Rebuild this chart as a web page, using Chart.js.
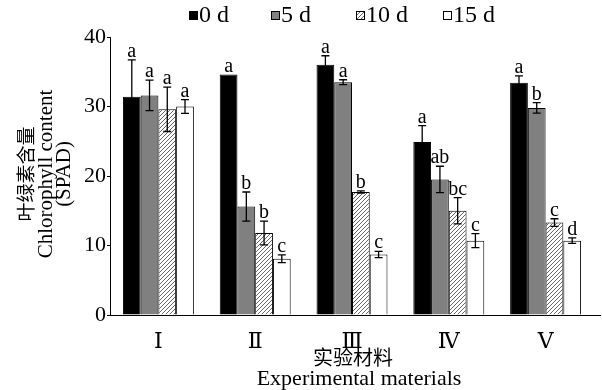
<!DOCTYPE html>
<html>
<head>
<meta charset="utf-8">
<script src="https://cdn.jsdelivr.net/npm/chart.js@4.4.1/dist/chart.umd.min.js"></script>
<style>
  html, body { margin: 0; padding: 0; background: #fff; }
  #wrap { width: 602px; height: 390px; }
</style>
</head>
<body>
<div id="wrap"><canvas id="chart" width="602" height="390"></canvas></div>
<script>
// ─── Data ─────────────────────────────────────────────────────────────────────
const categories = ["Ⅰ", "Ⅱ", "Ⅲ", "Ⅳ", "Ⅴ"];
const seriesNames = ["0 d", "5 d", "10 d", "15 d"];

const day0  = [31.4, 34.6, 36.0, 24.9, 33.4];
const day5  = [31.6, 15.6, 33.5, 19.5, 29.8];
const day10 = [29.6, 11.8, 17.7, 15.0, 13.3];
const day15 = [30.0,  8.1,  8.7, 10.7, 10.7];

const err0  = [5.3, 0.0, 1.3, 2.35, 1.0];
const err5  = [2.2, 2.1, 0.35, 1.9, 0.75];
const err10 = [3.2, 1.7, 0.15, 1.9, 0.55];
const err15 = [1.0, 0.55, 0.45, 1.0, 0.4];

const sig0  = ["a", "a", "a", "a", "a"];
const sig5  = ["a", "b", "a", "ab", "b"];
const sig10 = ["a", "b", "b", "bc", "c"];
const sig15 = ["a", "c", "c", "c", "d"];

const yTicks = [0, 10, 20, 30, 40];

// ─── Styles ───────────────────────────────────────────────────────────────────
const SERIF = '"Liberation Serif", "DejaVu Serif", "Times New Roman", serif';
const CJK = '"Noto Sans CJK SC", "Liberation Serif", serif';

function hatchPattern() {
    const c = document.createElement("canvas");
    c.width = 4; c.height = 4;
    const g = c.getContext("2d");
    g.fillStyle = "#fff";
    g.fillRect(0, 0, 4, 4);
    g.strokeStyle = "#555";
    g.lineWidth = 0.9;
    g.beginPath();
    g.moveTo(0, 4); g.lineTo(4, 0);
    g.moveTo(-1, 1); g.lineTo(1, -1);
    g.moveTo(3, 5); g.lineTo(5, 3);
    g.stroke();
    return document.getElementById("chart").getContext("2d").createPattern(c, "repeat");
}

const hatch = hatchPattern();
const fills = ["#000000", "#808080", hatch, "#ffffff"];
const values = [day0, day5, day10, day15];
const errors = [err0, err5, err10, err15];
const letters = [sig0, sig5, sig10, sig15];

// ─── Decorations: error bars, letters, legend, titles ────────────────────────
const decorations = {
    id: "decorations",
    afterDatasetsDraw(chart) {
        const { ctx, scales: { y }, chartArea } = chart;
        ctx.save();
        // x axis runs slightly past the plot area
        ctx.strokeStyle = "#000";
        ctx.lineWidth = 1;
        ctx.beginPath();
        ctx.moveTo(chartArea.right, Math.round(chartArea.bottom) + 0.5);
        ctx.lineTo(601, Math.round(chartArea.bottom) + 0.5);
        ctx.stroke();

        values.forEach((vals, i) => {
            const meta = chart.getDatasetMeta(i);
            meta.data.forEach((bar, j) => {
                const v = vals[j], e = errors[i][j];
                const top = y.getPixelForValue(v + e);
                if (e > 0) {
                    const bot = y.getPixelForValue(v - e);
                    ctx.strokeStyle = "#000";
                    ctx.lineWidth = 1.3;
                    ctx.beginPath();
                    ctx.moveTo(bar.x, top); ctx.lineTo(bar.x, bot);
                    ctx.moveTo(bar.x - 4, top); ctx.lineTo(bar.x + 4, top);
                    ctx.moveTo(bar.x - 4, bot); ctx.lineTo(bar.x + 4, bot);
                    ctx.stroke();
                }
                ctx.fillStyle = "#000";
                ctx.font = "20px " + SERIF;
                ctx.textAlign = "center";
                ctx.textBaseline = "alphabetic";
                ctx.fillText(letters[i][j], bar.x, top - 3);
            });
        });
        ctx.restore();
    },
    afterDraw(chart) {
        const { ctx } = chart;
        ctx.save();
        ctx.fillStyle = "#000";

        // legend
        const legendX = [189, 271, 356, 443];
        seriesNames.forEach((name, i) => {
            const x = legendX[i];
            ctx.fillStyle = fills[i];
            ctx.fillRect(x, 11, 9, 9);
            ctx.strokeStyle = "#000";
            ctx.lineWidth = 1;
            ctx.strokeRect(x + 0.5, 11.5, 8, 8);
            ctx.fillStyle = "#000";
            ctx.font = "24px " + SERIF;
            ctx.textAlign = "left";
            ctx.textBaseline = "middle";
            ctx.fillText(name, x + 10, 16);
        });

        // y axis title
        ctx.save();
        ctx.translate(0, 174);
        ctx.rotate(-Math.PI / 2);
        ctx.textAlign = "center";
        ctx.textBaseline = "middle";
        ctx.font = "19px " + CJK;
        ctx.fillText("叶绿素含量", 0, 26);
        ctx.font = "21px " + SERIF;
        ctx.fillText("Chlorophyll content", 0, 46);
        ctx.fillText("(SPAD)", 0, 64);
        ctx.restore();

        // x axis title
        ctx.textAlign = "center";
        ctx.textBaseline = "middle";
        ctx.font = "20px " + CJK;
        ctx.fillText("实验材料", 353, 357);
        ctx.font = "22px " + SERIF;
        ctx.fillText("Experimental materials", 359, 379);
        ctx.restore();
    },
};

// ─── Chart ────────────────────────────────────────────────────────────────────
new Chart(document.getElementById("chart"), {
    type: "bar",
    data: {
        labels: categories,
        datasets: seriesNames.map((name, i) => ({
            label: name,
            data: values[i],
            backgroundColor: fills[i],
            borderColor: "#000",
            borderWidth: 1,
            categoryPercentage: 0.733,
            barPercentage: 1.0,
        })),
    },
    options: {
        responsive: false,
        animation: false,
        layout: { padding: { top: 37, right: 8, left: 0, bottom: 0 } },
        plugins: { legend: { display: false }, tooltip: { enabled: false } },
        scales: {
            x: {
                grid: { display: false },
                border: { display: true, color: "#000", width: 1 },
                ticks: { color: "#000", font: { family: SERIF, size: 22 }, padding: 6 },
                afterFit: (s) => { s.height = 75; },
            },
            y: {
                min: 0,
                max: 40,
                afterBuildTicks: (s) => { s.ticks = yTicks.map(v => ({ value: v })); },
                grid: { drawOnChartArea: false, drawTicks: true, tickLength: 3, color: "#000" },
                border: { display: true, color: "#000", width: 1 },
                ticks: { color: "#000", font: { family: SERIF, size: 22 }, padding: 1 },
                afterFit: (s) => { s.width = 110; },
            },
        },
    },
    plugins: [decorations],
});
</script>
</body>
</html>
